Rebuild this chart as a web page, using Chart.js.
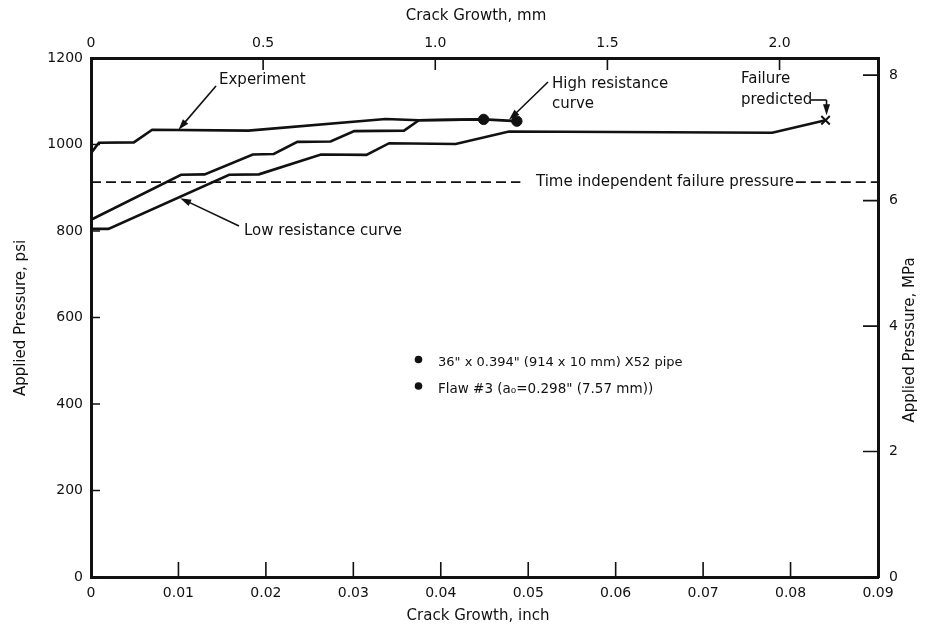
<!doctype html>
<html lang="en">
<head>
<meta charset="utf-8">
<title>Crack growth vs applied pressure</title>
<style>
  body { margin: 0; background: #fff; }
</style>
</head>
<body>
<canvas id="myChart" width="925" height="631"></canvas>
<script src="https://cdn.jsdelivr.net/npm/chart.js@4.4.0/dist/chart.umd.min.js"></script>
<script>
// crack growth (inch) and applied pressure (psi)
var experimentX = [0, 0.0009, 0.0049, 0.0070, 0.0180, 0.0337, 0.0375, 0.0449];
var experimentP = [980, 1004, 1005, 1034, 1032, 1059, 1056, 1058];

var highX = [0, 0.0103, 0.0130, 0.0185, 0.0209, 0.0236, 0.0274, 0.0301, 0.0358, 0.0375, 0.0449, 0.0487];
var highP = [826, 930, 931, 977, 978, 1006, 1007, 1031, 1032, 1056, 1058, 1054];

var lowX = [0, 0.0020, 0.0158, 0.0192, 0.0263, 0.0315, 0.0341, 0.0417, 0.0478, 0.0779, 0.0840];
var lowP = [805, 805, 930, 931, 977, 976, 1003, 1001, 1030, 1027, 1056];

var endDotsX = [0.0449, 0.0487];
var endDotsP = [1058, 1054];

var failureX = [0.0840];
var failureP = [1056];

var failurePressure = 913;
var dashLeftX = [0, 0.0491];
var dashRightX = [0.0806, 0.09];

var inchTicks = [0, 0.01, 0.02, 0.03, 0.04, 0.05, 0.06, 0.07, 0.08, 0.09];
var inchLabels = ['0', '0.01', '0.02', '0.03', '0.04', '0.05', '0.06', '0.07', '0.08', '0.09'];
var mmTicks = [0, 0.5, 1.0, 1.5, 2.0];
var mmLabels = ['0', '0.5', '1.0', '1.5', '2.0'];
var psiTicks = [0, 200, 400, 600, 800, 1000, 1200];
var psiLabels = ['0', '200', '400', '600', '800', '1000', '1200'];
var mpaTicks = [0, 2, 4, 6, 8];
var mpaLabels = ['0', '2', '4', '6', '8'];

var MM_PER_INCH = 25.4;
var PSI_PER_MPA = 145.04;

function pts(xs, ys) {
    return xs.map(function (x, i) { return {x: x, y: ys[i]}; });
}
function flat(xs, v) {
    return xs.map(function (x) { return {x: x, y: v}; });
}

var ink = '#111';
var tickFont = {family: 'DejaVu Sans', size: 14};

function fixTicks(values) {
    return function (scale) {
        scale.ticks = values.map(function (v) { return {value: v}; });
    };
}

function arrow(ctx, x1, y1, x2, y2) {
    var a = Math.atan2(y2 - y1, x2 - x1);
    var len = 11, half = 3.5;
    ctx.beginPath();
    ctx.moveTo(x1, y1);
    ctx.lineTo(x2 - Math.cos(a) * len * 0.8, y2 - Math.sin(a) * len * 0.8);
    ctx.stroke();
    ctx.beginPath();
    ctx.moveTo(x2, y2);
    ctx.lineTo(x2 - Math.cos(a) * len - Math.sin(a) * half, y2 - Math.sin(a) * len + Math.cos(a) * half);
    ctx.lineTo(x2 - Math.cos(a) * len + Math.sin(a) * half, y2 - Math.sin(a) * len - Math.cos(a) * half);
    ctx.closePath();
    ctx.fill();
}

var notes = {
    id: 'notes',
    afterDraw: function (c) {
        var ctx = c.ctx, a = c.chartArea;
        var xs = c.scales.x, xt = c.scales.x2, ys = c.scales.y, yr = c.scales.y2;
        ctx.save();
        ctx.strokeStyle = ink;
        ctx.fillStyle = ink;

        // inward tick marks
        ctx.lineWidth = 1.6;
        ctx.beginPath();
        inchTicks.forEach(function (v) {
            var x = xs.getPixelForValue(v);
            ctx.moveTo(x, a.bottom); ctx.lineTo(x, a.bottom - 15);
        });
        mmTicks.forEach(function (v) {
            var x = xt.getPixelForValue(v);
            ctx.moveTo(x, a.top); ctx.lineTo(x, a.top + 12);
        });
        psiTicks.forEach(function (v) {
            var y = ys.getPixelForValue(v);
            ctx.moveTo(a.left, y); ctx.lineTo(a.left + 9, y);
        });
        mpaTicks.forEach(function (v) {
            var y = yr.getPixelForValue(v);
            ctx.moveTo(a.right, y); ctx.lineTo(a.right - 15, y);
        });
        ctx.stroke();

        // axis titles
        ctx.font = '15px "DejaVu Sans"';
        ctx.textAlign = 'center';
        ctx.textBaseline = 'middle';
        ctx.fillText('Crack Growth, inch', 478, 616);
        ctx.fillText('Crack Growth, mm', 476, 16);
        ctx.save();
        ctx.translate(21, 318);
        ctx.rotate(-Math.PI / 2);
        ctx.fillText('Applied Pressure, psi', 0, 0);
        ctx.restore();
        ctx.save();
        ctx.translate(910, 340);
        ctx.rotate(-Math.PI / 2);
        ctx.fillText('Applied Pressure, MPa', 0, 0);
        ctx.restore();

        // curve labels with arrows
        ctx.textAlign = 'left';
        ctx.textBaseline = 'alphabetic';
        ctx.lineWidth = 1.6;
        ctx.fillText('Experiment', 219, 84);
        arrow(ctx, 216, 86, xs.getPixelForValue(0.0100), ys.getPixelForValue(1034));

        ctx.fillText('Low resistance curve', 244, 235);
        arrow(ctx, 239, 226, xs.getPixelForValue(0.0102), ys.getPixelForValue(876));

        ctx.fillText('High resistance', 552, 88);
        ctx.fillText('curve', 552, 108);
        arrow(ctx, 548, 82, xs.getPixelForValue(0.0478), ys.getPixelForValue(1057));

        ctx.fillText('Failure', 741, 83);
        ctx.fillText('predicted', 741, 104);
        var fx = xs.getPixelForValue(failureX[0]) + 1, fy = ys.getPixelForValue(failureP[0]);
        ctx.beginPath();
        ctx.moveTo(811, 100);
        ctx.lineTo(fx, 100);
        ctx.stroke();
        arrow(ctx, fx, 100, fx, fy - 5);

        ctx.textAlign = 'center';
        ctx.textBaseline = 'middle';
        ctx.fillText('Time independent failure pressure', 665, ys.getPixelForValue(failurePressure));

        // pipe and flaw notes
        ctx.textAlign = 'left';
        ctx.textBaseline = 'alphabetic';
        ctx.font = '13px "DejaVu Sans"';
        ctx.beginPath(); ctx.arc(418.5, 359.5, 3.8, 0, Math.PI * 2); ctx.fill();
        ctx.fillText('36" x 0.394" (914 x 10 mm) X52 pipe', 438, 366);
        ctx.beginPath(); ctx.arc(418.5, 386, 3.8, 0, Math.PI * 2); ctx.fill();
        ctx.font = '13.5px "DejaVu Sans"';
        ctx.fillText('Flaw #3 (a\u2080=0.298" (7.57 mm))', 438, 393);
        ctx.restore();
    }
};

var lineStyle = {borderColor: ink, borderWidth: 2.6, pointRadius: 0, showLine: true, tension: 0, fill: false};

var ctx = document.getElementById('myChart').getContext('2d');
var chart = new Chart(ctx, {
    type: 'scatter',
    data: {
        datasets: [
            Object.assign({label: 'Experiment', data: pts(experimentX, experimentP)}, lineStyle),
            Object.assign({label: 'High resistance curve', data: pts(highX, highP)}, lineStyle),
            Object.assign({label: 'Low resistance curve', data: pts(lowX, lowP)}, lineStyle),
            {label: 'Failure pressure', data: flat(dashLeftX, failurePressure), showLine: true,
                borderColor: ink, borderWidth: 1.6, borderDash: [10, 5], pointRadius: 0},
            {label: 'Failure pressure 2', data: flat(dashRightX, failurePressure), showLine: true,
                borderColor: ink, borderWidth: 1.6, borderDash: [10, 5], pointRadius: 0},
            {label: 'Ends', data: pts(endDotsX, endDotsP), pointRadius: 5.2,
                backgroundColor: ink, borderColor: ink},
            {label: 'Failure predicted', data: pts(failureX, failureP), pointStyle: 'crossRot',
                pointRadius: 6, borderWidth: 2, borderColor: ink}
        ]
    },
    options: {
        responsive: false,
        animation: false,
        layout: {padding: 0},
        plugins: {legend: {display: false}, tooltip: {enabled: false}},
        scales: {
            x: {
                type: 'linear', position: 'bottom', min: 0, max: 0.09,
                afterBuildTicks: fixTicks(inchTicks),
                afterFit: function (s) { s.height = 54; },
                grid: {drawOnChartArea: false, drawTicks: false},
                border: {display: true, width: 3, color: ink},
                ticks: {padding: 8, color: ink, font: tickFont, maxRotation: 0,
                    callback: function (v, i) { return inchLabels[i]; }}
            },
            x2: {
                type: 'linear', position: 'top', min: 0, max: 0.09 * MM_PER_INCH,
                afterBuildTicks: fixTicks(mmTicks),
                afterFit: function (s) { s.height = 58; },
                grid: {drawOnChartArea: false, drawTicks: false},
                border: {display: true, width: 3, color: ink},
                ticks: {padding: 6, color: ink, font: tickFont, maxRotation: 0,
                    callback: function (v, i) { return mmLabels[i]; }}
            },
            y: {
                type: 'linear', position: 'left', min: 0, max: 1200,
                afterBuildTicks: fixTicks(psiTicks),
                afterFit: function (s) { s.width = 91; },
                grid: {drawOnChartArea: false, drawTicks: false},
                border: {display: true, width: 3, color: ink},
                ticks: {padding: 8, color: ink, font: tickFont,
                    callback: function (v, i) { return psiLabels[i]; }}
            },
            y2: {
                type: 'linear', position: 'right', min: 0, max: 1200 / PSI_PER_MPA,
                afterBuildTicks: fixTicks(mpaTicks),
                afterFit: function (s) { s.width = 47; },
                grid: {drawOnChartArea: false, drawTicks: false},
                border: {display: true, width: 3, color: ink},
                ticks: {padding: 11, color: ink, font: tickFont,
                    callback: function (v, i) { return mpaLabels[i]; }}
            }
        }
    },
    plugins: [notes]
});
</script>
</body>
</html>
